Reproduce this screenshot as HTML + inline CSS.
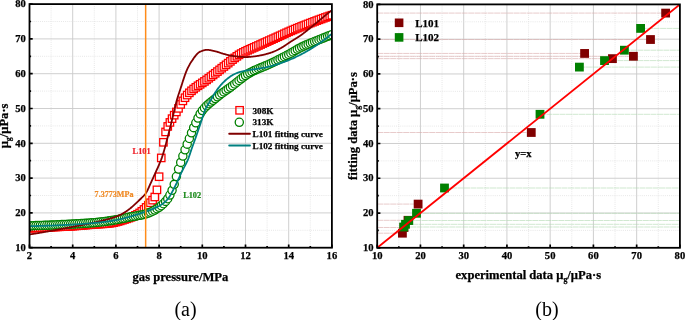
<!DOCTYPE html><html><head><meta charset="utf-8"><style>html,body{margin:0;padding:0;background:#fff;}svg{display:block;will-change:transform;filter:blur(0.3px);}</style></head><body><svg width="685" height="320" viewBox="0 0 685 320">
<rect width="685" height="320" fill="#fff"/>
<defs><clipPath id="cl"><rect x="29.5" y="4.1" width="302.4" height="243.6"/></clipPath><clipPath id="cr"><rect x="377.2" y="4.4" width="302.7" height="243.4"/></clipPath></defs>
<line x1="51.1" y1="4.1" x2="51.1" y2="247.7" stroke="#dedede" stroke-width="0.8" stroke-dasharray="0.9,1.2"/>
<line x1="72.7" y1="4.1" x2="72.7" y2="247.7" stroke="#c9c9c9" stroke-width="0.9"/>
<line x1="94.3" y1="4.1" x2="94.3" y2="247.7" stroke="#dedede" stroke-width="0.8" stroke-dasharray="0.9,1.2"/>
<line x1="115.9" y1="4.1" x2="115.9" y2="247.7" stroke="#c9c9c9" stroke-width="0.9"/>
<line x1="137.5" y1="4.1" x2="137.5" y2="247.7" stroke="#dedede" stroke-width="0.8" stroke-dasharray="0.9,1.2"/>
<line x1="159.1" y1="4.1" x2="159.1" y2="247.7" stroke="#c9c9c9" stroke-width="0.9"/>
<line x1="180.7" y1="4.1" x2="180.7" y2="247.7" stroke="#dedede" stroke-width="0.8" stroke-dasharray="0.9,1.2"/>
<line x1="202.3" y1="4.1" x2="202.3" y2="247.7" stroke="#c9c9c9" stroke-width="0.9"/>
<line x1="223.9" y1="4.1" x2="223.9" y2="247.7" stroke="#dedede" stroke-width="0.8" stroke-dasharray="0.9,1.2"/>
<line x1="245.5" y1="4.1" x2="245.5" y2="247.7" stroke="#c9c9c9" stroke-width="0.9"/>
<line x1="267.1" y1="4.1" x2="267.1" y2="247.7" stroke="#dedede" stroke-width="0.8" stroke-dasharray="0.9,1.2"/>
<line x1="288.7" y1="4.1" x2="288.7" y2="247.7" stroke="#c9c9c9" stroke-width="0.9"/>
<line x1="310.3" y1="4.1" x2="310.3" y2="247.7" stroke="#dedede" stroke-width="0.8" stroke-dasharray="0.9,1.2"/>
<line x1="29.5" y1="230.3" x2="331.9" y2="230.3" stroke="#dedede" stroke-width="0.8" stroke-dasharray="0.9,1.2"/>
<line x1="29.5" y1="212.9" x2="331.9" y2="212.9" stroke="#c9c9c9" stroke-width="0.9"/>
<line x1="29.5" y1="195.5" x2="331.9" y2="195.5" stroke="#dedede" stroke-width="0.8" stroke-dasharray="0.9,1.2"/>
<line x1="29.5" y1="178.1" x2="331.9" y2="178.1" stroke="#c9c9c9" stroke-width="0.9"/>
<line x1="29.5" y1="160.7" x2="331.9" y2="160.7" stroke="#dedede" stroke-width="0.8" stroke-dasharray="0.9,1.2"/>
<line x1="29.5" y1="143.3" x2="331.9" y2="143.3" stroke="#c9c9c9" stroke-width="0.9"/>
<line x1="29.5" y1="125.9" x2="331.9" y2="125.9" stroke="#dedede" stroke-width="0.8" stroke-dasharray="0.9,1.2"/>
<line x1="29.5" y1="108.5" x2="331.9" y2="108.5" stroke="#c9c9c9" stroke-width="0.9"/>
<line x1="29.5" y1="91.1" x2="331.9" y2="91.1" stroke="#dedede" stroke-width="0.8" stroke-dasharray="0.9,1.2"/>
<line x1="29.5" y1="73.7" x2="331.9" y2="73.7" stroke="#c9c9c9" stroke-width="0.9"/>
<line x1="29.5" y1="56.3" x2="331.9" y2="56.3" stroke="#dedede" stroke-width="0.8" stroke-dasharray="0.9,1.2"/>
<line x1="29.5" y1="38.9" x2="331.9" y2="38.9" stroke="#c9c9c9" stroke-width="0.9"/>
<line x1="29.5" y1="21.5" x2="331.9" y2="21.5" stroke="#dedede" stroke-width="0.8" stroke-dasharray="0.9,1.2"/>
<line x1="398.82" y1="4.4" x2="398.82" y2="247.8" stroke="#dedede" stroke-width="0.8" stroke-dasharray="0.9,1.2"/>
<line x1="420.44" y1="4.4" x2="420.44" y2="247.8" stroke="#c9c9c9" stroke-width="0.9"/>
<line x1="442.06" y1="4.4" x2="442.06" y2="247.8" stroke="#dedede" stroke-width="0.8" stroke-dasharray="0.9,1.2"/>
<line x1="463.69" y1="4.4" x2="463.69" y2="247.8" stroke="#c9c9c9" stroke-width="0.9"/>
<line x1="485.31" y1="4.4" x2="485.31" y2="247.8" stroke="#dedede" stroke-width="0.8" stroke-dasharray="0.9,1.2"/>
<line x1="506.93" y1="4.4" x2="506.93" y2="247.8" stroke="#c9c9c9" stroke-width="0.9"/>
<line x1="528.55" y1="4.4" x2="528.55" y2="247.8" stroke="#dedede" stroke-width="0.8" stroke-dasharray="0.9,1.2"/>
<line x1="550.17" y1="4.4" x2="550.17" y2="247.8" stroke="#c9c9c9" stroke-width="0.9"/>
<line x1="571.79" y1="4.4" x2="571.79" y2="247.8" stroke="#dedede" stroke-width="0.8" stroke-dasharray="0.9,1.2"/>
<line x1="593.41" y1="4.4" x2="593.41" y2="247.8" stroke="#c9c9c9" stroke-width="0.9"/>
<line x1="615.04" y1="4.4" x2="615.04" y2="247.8" stroke="#dedede" stroke-width="0.8" stroke-dasharray="0.9,1.2"/>
<line x1="636.66" y1="4.4" x2="636.66" y2="247.8" stroke="#c9c9c9" stroke-width="0.9"/>
<line x1="658.28" y1="4.4" x2="658.28" y2="247.8" stroke="#dedede" stroke-width="0.8" stroke-dasharray="0.9,1.2"/>
<line x1="377.2" y1="230.41" x2="679.9" y2="230.41" stroke="#dedede" stroke-width="0.8" stroke-dasharray="0.9,1.2"/>
<line x1="377.2" y1="213.03" x2="679.9" y2="213.03" stroke="#c9c9c9" stroke-width="0.9"/>
<line x1="377.2" y1="195.64" x2="679.9" y2="195.64" stroke="#dedede" stroke-width="0.8" stroke-dasharray="0.9,1.2"/>
<line x1="377.2" y1="178.26" x2="679.9" y2="178.26" stroke="#c9c9c9" stroke-width="0.9"/>
<line x1="377.2" y1="160.87" x2="679.9" y2="160.87" stroke="#dedede" stroke-width="0.8" stroke-dasharray="0.9,1.2"/>
<line x1="377.2" y1="143.49" x2="679.9" y2="143.49" stroke="#c9c9c9" stroke-width="0.9"/>
<line x1="377.2" y1="126.1" x2="679.9" y2="126.1" stroke="#dedede" stroke-width="0.8" stroke-dasharray="0.9,1.2"/>
<line x1="377.2" y1="108.71" x2="679.9" y2="108.71" stroke="#c9c9c9" stroke-width="0.9"/>
<line x1="377.2" y1="91.33" x2="679.9" y2="91.33" stroke="#dedede" stroke-width="0.8" stroke-dasharray="0.9,1.2"/>
<line x1="377.2" y1="73.94" x2="679.9" y2="73.94" stroke="#c9c9c9" stroke-width="0.9"/>
<line x1="377.2" y1="56.56" x2="679.9" y2="56.56" stroke="#dedede" stroke-width="0.8" stroke-dasharray="0.9,1.2"/>
<line x1="377.2" y1="39.17" x2="679.9" y2="39.17" stroke="#c9c9c9" stroke-width="0.9"/>
<line x1="377.2" y1="21.79" x2="679.9" y2="21.79" stroke="#dedede" stroke-width="0.8" stroke-dasharray="0.9,1.2"/>
<g clip-path="url(#cl)">
<g fill="#fff" stroke="#ff0000" stroke-width="1.3"><rect x="25.8" y="224.51" width="7.4" height="7.4"/><rect x="27.96" y="224.41" width="7.4" height="7.4"/><rect x="30.12" y="224.3" width="7.4" height="7.4"/><rect x="32.28" y="224.2" width="7.4" height="7.4"/><rect x="34.44" y="224.09" width="7.4" height="7.4"/><rect x="36.6" y="223.99" width="7.4" height="7.4"/><rect x="38.76" y="223.89" width="7.4" height="7.4"/><rect x="40.92" y="223.78" width="7.4" height="7.4"/><rect x="43.08" y="223.68" width="7.4" height="7.4"/><rect x="45.24" y="223.57" width="7.4" height="7.4"/><rect x="47.4" y="223.47" width="7.4" height="7.4"/><rect x="49.56" y="223.37" width="7.4" height="7.4"/><rect x="51.72" y="223.27" width="7.4" height="7.4"/><rect x="53.88" y="223.17" width="7.4" height="7.4"/><rect x="56.04" y="223.08" width="7.4" height="7.4"/><rect x="58.2" y="222.98" width="7.4" height="7.4"/><rect x="60.36" y="222.88" width="7.4" height="7.4"/><rect x="62.52" y="222.78" width="7.4" height="7.4"/><rect x="64.68" y="222.67" width="7.4" height="7.4"/><rect x="66.84" y="222.55" width="7.4" height="7.4"/><rect x="69" y="222.42" width="7.4" height="7.4"/><rect x="71.16" y="222.28" width="7.4" height="7.4"/><rect x="73.32" y="222.13" width="7.4" height="7.4"/><rect x="75.48" y="221.96" width="7.4" height="7.4"/><rect x="77.64" y="221.78" width="7.4" height="7.4"/><rect x="79.8" y="221.59" width="7.4" height="7.4"/><rect x="81.96" y="221.4" width="7.4" height="7.4"/><rect x="84.12" y="221.21" width="7.4" height="7.4"/><rect x="86.28" y="221.03" width="7.4" height="7.4"/><rect x="88.44" y="220.85" width="7.4" height="7.4"/><rect x="90.6" y="220.68" width="7.4" height="7.4"/><rect x="92.76" y="220.54" width="7.4" height="7.4"/><rect x="94.92" y="220.41" width="7.4" height="7.4"/><rect x="97.08" y="220.28" width="7.4" height="7.4"/><rect x="99.24" y="220.15" width="7.4" height="7.4"/><rect x="101.4" y="220.01" width="7.4" height="7.4"/><rect x="103.56" y="219.83" width="7.4" height="7.4"/><rect x="105.72" y="219.62" width="7.4" height="7.4"/><rect x="107.88" y="219.31" width="7.4" height="7.4"/><rect x="110.04" y="218.9" width="7.4" height="7.4"/><rect x="112.2" y="218.4" width="7.4" height="7.4"/><rect x="114.36" y="217.82" width="7.4" height="7.4"/><rect x="116.52" y="217.19" width="7.4" height="7.4"/><rect x="118.68" y="216.52" width="7.4" height="7.4"/><rect x="120.84" y="215.82" width="7.4" height="7.4"/><rect x="123" y="215.12" width="7.4" height="7.4"/><rect x="125.16" y="214.39" width="7.4" height="7.4"/><rect x="127.32" y="213.6" width="7.4" height="7.4"/><rect x="129.48" y="212.72" width="7.4" height="7.4"/><rect x="131.64" y="211.72" width="7.4" height="7.4"/><rect x="133.8" y="210.59" width="7.4" height="7.4"/><rect x="135.96" y="209.23" width="7.4" height="7.4"/><rect x="138.12" y="207.6" width="7.4" height="7.4"/><rect x="140.28" y="205.75" width="7.4" height="7.4"/><rect x="142.44" y="203.71" width="7.4" height="7.4"/><rect x="144.6" y="201.52" width="7.4" height="7.4"/><rect x="146.76" y="199.02" width="7.4" height="7.4"/><rect x="148.92" y="196.44" width="7.4" height="7.4"/><rect x="151.08" y="193.29" width="7.4" height="7.4"/><rect x="153.24" y="186.16" width="7.4" height="7.4"/><rect x="155.4" y="173.01" width="7.4" height="7.4"/><rect x="157.56" y="154.22" width="7.4" height="7.4"/><rect x="159.72" y="138.61" width="7.4" height="7.4"/><rect x="161.88" y="128.24" width="7.4" height="7.4"/><rect x="164.04" y="122.72" width="7.4" height="7.4"/><rect x="166.2" y="118.72" width="7.4" height="7.4"/><rect x="168.36" y="114.94" width="7.4" height="7.4"/><rect x="170.52" y="111.47" width="7.4" height="7.4"/><rect x="172.68" y="108.24" width="7.4" height="7.4"/><rect x="174.84" y="104.67" width="7.4" height="7.4"/><rect x="177" y="100.72" width="7.4" height="7.4"/><rect x="179.16" y="97.18" width="7.4" height="7.4"/><rect x="181.32" y="94.01" width="7.4" height="7.4"/><rect x="183.48" y="91.36" width="7.4" height="7.4"/><rect x="185.64" y="89.12" width="7.4" height="7.4"/><rect x="187.8" y="87.11" width="7.4" height="7.4"/><rect x="189.96" y="85.29" width="7.4" height="7.4"/><rect x="192.12" y="83.62" width="7.4" height="7.4"/><rect x="194.28" y="82.08" width="7.4" height="7.4"/><rect x="196.44" y="80.63" width="7.4" height="7.4"/><rect x="198.6" y="79.2" width="7.4" height="7.4"/><rect x="200.76" y="77.73" width="7.4" height="7.4"/><rect x="202.92" y="76.17" width="7.4" height="7.4"/><rect x="205.08" y="74.57" width="7.4" height="7.4"/><rect x="207.24" y="72.93" width="7.4" height="7.4"/><rect x="209.4" y="71.26" width="7.4" height="7.4"/><rect x="211.56" y="69.58" width="7.4" height="7.4"/><rect x="213.72" y="67.88" width="7.4" height="7.4"/><rect x="215.88" y="66.19" width="7.4" height="7.4"/><rect x="218.04" y="64.5" width="7.4" height="7.4"/><rect x="220.2" y="62.82" width="7.4" height="7.4"/><rect x="222.36" y="61.16" width="7.4" height="7.4"/><rect x="224.52" y="59.43" width="7.4" height="7.4"/><rect x="226.68" y="57.67" width="7.4" height="7.4"/><rect x="228.84" y="55.92" width="7.4" height="7.4"/><rect x="231" y="54.23" width="7.4" height="7.4"/><rect x="233.16" y="52.63" width="7.4" height="7.4"/><rect x="235.32" y="51.17" width="7.4" height="7.4"/><rect x="237.48" y="49.89" width="7.4" height="7.4"/><rect x="239.64" y="48.71" width="7.4" height="7.4"/><rect x="241.8" y="47.61" width="7.4" height="7.4"/><rect x="243.96" y="46.58" width="7.4" height="7.4"/><rect x="246.12" y="45.59" width="7.4" height="7.4"/><rect x="248.28" y="44.64" width="7.4" height="7.4"/><rect x="250.44" y="43.7" width="7.4" height="7.4"/><rect x="252.6" y="42.76" width="7.4" height="7.4"/><rect x="254.76" y="41.8" width="7.4" height="7.4"/><rect x="256.92" y="40.82" width="7.4" height="7.4"/><rect x="259.08" y="39.83" width="7.4" height="7.4"/><rect x="261.24" y="38.85" width="7.4" height="7.4"/><rect x="263.4" y="37.88" width="7.4" height="7.4"/><rect x="265.56" y="36.91" width="7.4" height="7.4"/><rect x="267.72" y="35.94" width="7.4" height="7.4"/><rect x="269.88" y="34.98" width="7.4" height="7.4"/><rect x="272.04" y="34.01" width="7.4" height="7.4"/><rect x="274.2" y="33.04" width="7.4" height="7.4"/><rect x="276.36" y="32.07" width="7.4" height="7.4"/><rect x="278.52" y="31.08" width="7.4" height="7.4"/><rect x="280.68" y="30.07" width="7.4" height="7.4"/><rect x="282.84" y="29.08" width="7.4" height="7.4"/><rect x="285" y="28.11" width="7.4" height="7.4"/><rect x="287.16" y="27.18" width="7.4" height="7.4"/><rect x="289.32" y="26.26" width="7.4" height="7.4"/><rect x="291.48" y="25.36" width="7.4" height="7.4"/><rect x="293.64" y="24.47" width="7.4" height="7.4"/><rect x="295.8" y="23.6" width="7.4" height="7.4"/><rect x="297.96" y="22.73" width="7.4" height="7.4"/><rect x="300.12" y="21.87" width="7.4" height="7.4"/><rect x="302.28" y="21.03" width="7.4" height="7.4"/><rect x="304.44" y="20.19" width="7.4" height="7.4"/><rect x="306.6" y="19.36" width="7.4" height="7.4"/><rect x="308.76" y="18.54" width="7.4" height="7.4"/><rect x="310.92" y="17.72" width="7.4" height="7.4"/><rect x="313.08" y="16.91" width="7.4" height="7.4"/><rect x="315.24" y="16.11" width="7.4" height="7.4"/><rect x="317.4" y="15.32" width="7.4" height="7.4"/><rect x="319.56" y="14.54" width="7.4" height="7.4"/><rect x="321.72" y="13.77" width="7.4" height="7.4"/><rect x="323.88" y="13.02" width="7.4" height="7.4"/><rect x="326.04" y="12.27" width="7.4" height="7.4"/><rect x="328.2" y="11.54" width="7.4" height="7.4"/></g>
<g fill="#fff" stroke="#008000" stroke-width="1.3"><circle cx="29.5" cy="225.78" r="4.1"/><circle cx="31.66" cy="225.72" r="4.1"/><circle cx="33.82" cy="225.66" r="4.1"/><circle cx="35.98" cy="225.6" r="4.1"/><circle cx="38.14" cy="225.54" r="4.1"/><circle cx="40.3" cy="225.47" r="4.1"/><circle cx="42.46" cy="225.4" r="4.1"/><circle cx="44.62" cy="225.32" r="4.1"/><circle cx="46.78" cy="225.24" r="4.1"/><circle cx="48.94" cy="225.16" r="4.1"/><circle cx="51.1" cy="225.08" r="4.1"/><circle cx="53.26" cy="224.99" r="4.1"/><circle cx="55.42" cy="224.9" r="4.1"/><circle cx="57.58" cy="224.81" r="4.1"/><circle cx="59.74" cy="224.71" r="4.1"/><circle cx="61.9" cy="224.6" r="4.1"/><circle cx="64.06" cy="224.5" r="4.1"/><circle cx="66.22" cy="224.38" r="4.1"/><circle cx="68.38" cy="224.27" r="4.1"/><circle cx="70.54" cy="224.15" r="4.1"/><circle cx="72.7" cy="224.04" r="4.1"/><circle cx="74.86" cy="223.92" r="4.1"/><circle cx="77.02" cy="223.8" r="4.1"/><circle cx="79.18" cy="223.67" r="4.1"/><circle cx="81.34" cy="223.55" r="4.1"/><circle cx="83.5" cy="223.42" r="4.1"/><circle cx="85.66" cy="223.28" r="4.1"/><circle cx="87.82" cy="223.14" r="4.1"/><circle cx="89.98" cy="222.98" r="4.1"/><circle cx="92.14" cy="222.82" r="4.1"/><circle cx="94.3" cy="222.64" r="4.1"/><circle cx="96.46" cy="222.45" r="4.1"/><circle cx="98.62" cy="222.23" r="4.1"/><circle cx="100.78" cy="221.99" r="4.1"/><circle cx="102.94" cy="221.74" r="4.1"/><circle cx="105.1" cy="221.46" r="4.1"/><circle cx="107.26" cy="221.17" r="4.1"/><circle cx="109.42" cy="220.87" r="4.1"/><circle cx="111.58" cy="220.55" r="4.1"/><circle cx="113.74" cy="220.19" r="4.1"/><circle cx="115.9" cy="219.81" r="4.1"/><circle cx="118.06" cy="219.41" r="4.1"/><circle cx="120.22" cy="218.99" r="4.1"/><circle cx="122.38" cy="218.57" r="4.1"/><circle cx="124.54" cy="218.14" r="4.1"/><circle cx="126.7" cy="217.71" r="4.1"/><circle cx="128.86" cy="217.28" r="4.1"/><circle cx="131.02" cy="216.87" r="4.1"/><circle cx="133.18" cy="216.49" r="4.1"/><circle cx="135.34" cy="216.13" r="4.1"/><circle cx="137.5" cy="215.75" r="4.1"/><circle cx="139.66" cy="215.36" r="4.1"/><circle cx="141.82" cy="214.92" r="4.1"/><circle cx="143.98" cy="214.41" r="4.1"/><circle cx="146.14" cy="213.82" r="4.1"/><circle cx="148.3" cy="213.09" r="4.1"/><circle cx="150.46" cy="212.21" r="4.1"/><circle cx="152.62" cy="211.18" r="4.1"/><circle cx="154.78" cy="210.02" r="4.1"/><circle cx="156.94" cy="208.74" r="4.1"/><circle cx="159.1" cy="207.33" r="4.1"/><circle cx="161.26" cy="205.71" r="4.1"/><circle cx="163.42" cy="203.74" r="4.1"/><circle cx="165.58" cy="201.4" r="4.1"/><circle cx="167.74" cy="198.69" r="4.1"/><circle cx="169.9" cy="195.04" r="4.1"/><circle cx="172.06" cy="190.36" r="4.1"/><circle cx="174.22" cy="184.34" r="4.1"/><circle cx="176.38" cy="176.54" r="4.1"/><circle cx="178.54" cy="169.06" r="4.1"/><circle cx="180.7" cy="162.38" r="4.1"/><circle cx="182.86" cy="156.03" r="4.1"/><circle cx="185.02" cy="149.77" r="4.1"/><circle cx="187.18" cy="144.13" r="4.1"/><circle cx="189.34" cy="138.51" r="4.1"/><circle cx="191.5" cy="132.86" r="4.1"/><circle cx="193.66" cy="127.64" r="4.1"/><circle cx="195.82" cy="122.78" r="4.1"/><circle cx="197.98" cy="118.09" r="4.1"/><circle cx="200.14" cy="113.92" r="4.1"/><circle cx="202.3" cy="110.59" r="4.1"/><circle cx="204.46" cy="108.01" r="4.1"/><circle cx="206.62" cy="105.81" r="4.1"/><circle cx="208.78" cy="103.87" r="4.1"/><circle cx="210.94" cy="102.09" r="4.1"/><circle cx="213.1" cy="100.35" r="4.1"/><circle cx="215.26" cy="98.56" r="4.1"/><circle cx="217.42" cy="96.81" r="4.1"/><circle cx="219.58" cy="95.12" r="4.1"/><circle cx="221.74" cy="93.49" r="4.1"/><circle cx="223.9" cy="91.89" r="4.1"/><circle cx="226.06" cy="90.33" r="4.1"/><circle cx="228.22" cy="88.83" r="4.1"/><circle cx="230.38" cy="87.31" r="4.1"/><circle cx="232.54" cy="85.69" r="4.1"/><circle cx="234.7" cy="83.99" r="4.1"/><circle cx="236.86" cy="82.25" r="4.1"/><circle cx="239.02" cy="80.5" r="4.1"/><circle cx="241.18" cy="78.78" r="4.1"/><circle cx="243.34" cy="77.11" r="4.1"/><circle cx="245.5" cy="75.53" r="4.1"/><circle cx="247.66" cy="74.07" r="4.1"/><circle cx="249.82" cy="72.78" r="4.1"/><circle cx="251.98" cy="71.63" r="4.1"/><circle cx="254.14" cy="70.59" r="4.1"/><circle cx="256.3" cy="69.63" r="4.1"/><circle cx="258.46" cy="68.72" r="4.1"/><circle cx="260.62" cy="67.85" r="4.1"/><circle cx="262.78" cy="66.99" r="4.1"/><circle cx="264.94" cy="66.12" r="4.1"/><circle cx="267.1" cy="65.22" r="4.1"/><circle cx="269.26" cy="64.26" r="4.1"/><circle cx="271.42" cy="63.24" r="4.1"/><circle cx="273.58" cy="62.2" r="4.1"/><circle cx="275.74" cy="61.13" r="4.1"/><circle cx="277.9" cy="60.05" r="4.1"/><circle cx="280.06" cy="58.96" r="4.1"/><circle cx="282.22" cy="57.84" r="4.1"/><circle cx="284.38" cy="56.71" r="4.1"/><circle cx="286.54" cy="55.56" r="4.1"/><circle cx="288.7" cy="54.4" r="4.1"/><circle cx="290.86" cy="53.21" r="4.1"/><circle cx="293.02" cy="51.94" r="4.1"/><circle cx="295.18" cy="50.63" r="4.1"/><circle cx="297.34" cy="49.35" r="4.1"/><circle cx="299.5" cy="48.17" r="4.1"/><circle cx="301.66" cy="47.1" r="4.1"/><circle cx="303.82" cy="46.09" r="4.1"/><circle cx="305.98" cy="45.12" r="4.1"/><circle cx="308.14" cy="44.19" r="4.1"/><circle cx="310.3" cy="43.29" r="4.1"/><circle cx="312.46" cy="42.4" r="4.1"/><circle cx="314.62" cy="41.52" r="4.1"/><circle cx="316.78" cy="40.64" r="4.1"/><circle cx="318.94" cy="39.76" r="4.1"/><circle cx="321.1" cy="38.89" r="4.1"/><circle cx="323.26" cy="38.03" r="4.1"/><circle cx="325.42" cy="37.19" r="4.1"/><circle cx="327.58" cy="36.35" r="4.1"/><circle cx="329.74" cy="35.53" r="4.1"/><circle cx="331.9" cy="34.72" r="4.1"/></g>
<polyline points="29.5,234.48 30.04,234.39 30.58,234.31 31.12,234.22 31.66,234.14 32.2,234.05 32.74,233.96 33.28,233.88 33.82,233.79 34.36,233.7 34.9,233.62 35.44,233.53 35.98,233.44 36.52,233.35 37.06,233.27 37.6,233.18 38.14,233.09 38.68,233 39.22,232.91 39.76,232.82 40.3,232.73 40.84,232.64 41.38,232.55 41.92,232.45 42.46,232.36 43,232.27 43.54,232.18 44.08,232.09 44.62,231.99 45.16,231.9 45.7,231.81 46.24,231.71 46.78,231.62 47.32,231.53 47.86,231.43 48.4,231.34 48.94,231.24 49.48,231.15 50.02,231.05 50.56,230.95 51.1,230.86 51.64,230.76 52.18,230.67 52.72,230.57 53.26,230.47 53.8,230.37 54.34,230.28 54.88,230.18 55.42,230.08 55.96,229.98 56.5,229.88 57.04,229.78 57.58,229.68 58.12,229.58 58.66,229.48 59.2,229.38 59.74,229.28 60.28,229.18 60.82,229.08 61.36,228.98 61.9,228.88 62.44,228.78 62.98,228.68 63.52,228.57 64.06,228.47 64.6,228.37 65.14,228.26 65.68,228.16 66.22,228.06 66.76,227.95 67.3,227.85 67.84,227.75 68.38,227.64 68.92,227.54 69.46,227.43 70,227.33 70.54,227.22 71.08,227.12 71.62,227.02 72.16,226.91 72.7,226.81 73.24,226.71 73.78,226.6 74.32,226.5 74.86,226.4 75.4,226.29 75.94,226.19 76.48,226.09 77.02,225.98 77.56,225.88 78.1,225.78 78.64,225.67 79.18,225.57 79.72,225.47 80.26,225.36 80.8,225.26 81.34,225.15 81.88,225.05 82.42,224.94 82.96,224.84 83.5,224.73 84.04,224.63 84.58,224.52 85.12,224.41 85.66,224.31 86.2,224.2 86.74,224.09 87.28,223.98 87.82,223.87 88.36,223.76 88.9,223.65 89.44,223.54 89.98,223.43 90.52,223.32 91.06,223.2 91.6,223.09 92.14,222.97 92.68,222.86 93.22,222.74 93.76,222.62 94.3,222.51 94.84,222.39 95.38,222.27 95.92,222.15 96.46,222.03 97,221.9 97.54,221.78 98.08,221.65 98.62,221.53 99.16,221.4 99.7,221.27 100.24,221.15 100.78,221.02 101.32,220.88 101.86,220.75 102.4,220.62 102.94,220.48 103.48,220.35 104.02,220.21 104.56,220.07 105.1,219.93 105.64,219.79 106.18,219.64 106.72,219.5 107.26,219.35 107.8,219.21 108.34,219.06 108.88,218.91 109.42,218.75 109.96,218.6 110.5,218.44 111.04,218.28 111.58,218.12 112.12,217.95 112.66,217.78 113.2,217.61 113.74,217.43 114.28,217.25 114.82,217.06 115.36,216.87 115.9,216.67 116.44,216.47 116.98,216.26 117.52,216.05 118.06,215.83 118.6,215.6 119.14,215.37 119.68,215.13 120.22,214.89 120.76,214.63 121.3,214.36 121.84,214.07 122.38,213.77 122.92,213.46 123.46,213.14 124,212.81 124.54,212.47 125.08,212.12 125.62,211.76 126.16,211.4 126.7,211.03 127.24,210.65 127.78,210.27 128.32,209.88 128.86,209.48 129.4,209.07 129.94,208.65 130.48,208.21 131.02,207.77 131.56,207.31 132.1,206.85 132.64,206.38 133.18,205.9 133.72,205.41 134.26,204.92 134.8,204.41 135.34,203.91 135.88,203.4 136.42,202.88 136.96,202.37 137.5,201.84 138.04,201.32 138.58,200.79 139.12,200.27 139.66,199.75 140.2,199.24 140.74,198.73 141.28,198.23 141.82,197.71 142.36,197.19 142.9,196.64 143.44,196.08 143.98,195.48 144.52,194.86 145.06,194.19 145.6,193.48 146.14,192.72 146.68,191.85 147.22,190.85 147.76,189.74 148.3,188.56 148.84,187.33 149.38,186.08 149.92,184.85 150.46,183.67 151,182.51 151.54,181.35 152.08,180.19 152.62,179.01 153.16,177.84 153.7,176.65 154.24,175.47 154.78,174.27 155.32,173.08 155.86,171.88 156.4,170.69 156.94,169.48 157.48,168.27 158.02,167.04 158.56,165.8 159.1,164.53 159.64,163.26 160.18,161.99 160.72,160.69 161.26,159.33 161.8,157.87 162.34,156.3 162.88,154.63 163.42,152.87 163.96,151.03 164.5,149.12 165.04,147.16 165.58,145.16 166.12,143.12 166.66,141.07 167.2,139 167.74,136.94 168.28,134.89 168.82,132.81 169.36,130.69 169.9,128.54 170.44,126.36 170.98,124.15 171.52,121.93 172.06,119.7 172.6,117.46 173.14,115.23 173.68,112.99 174.22,110.78 174.76,108.55 175.3,106.25 175.84,103.96 176.38,101.77 176.92,99.77 177.46,97.93 178,96.21 178.54,94.56 179.08,92.95 179.62,91.35 180.16,89.73 180.7,88.07 181.24,86.38 181.78,84.68 182.32,82.97 182.86,81.27 183.4,79.6 183.94,77.95 184.48,76.35 185.02,74.8 185.56,73.32 186.1,71.92 186.64,70.61 187.18,69.4 187.72,68.24 188.26,67.13 188.8,66.07 189.34,65.05 189.88,64.08 190.42,63.16 190.96,62.28 191.5,61.45 192.04,60.67 192.58,59.9 193.12,59.12 193.66,58.35 194.2,57.59 194.74,56.85 195.28,56.13 195.82,55.44 196.36,54.79 196.9,54.17 197.44,53.6 197.98,53.09 198.52,52.64 199.06,52.25 199.6,51.93 200.14,51.68 200.68,51.46 201.22,51.24 201.76,51.03 202.3,50.83 202.84,50.64 203.38,50.47 203.92,50.31 204.46,50.18 205,50.07 205.54,49.98 206.08,49.91 206.62,49.87 207.16,49.86 207.7,49.88 208.24,49.91 208.78,49.96 209.32,50.02 209.86,50.1 210.4,50.19 210.94,50.3 211.48,50.41 212.02,50.52 212.56,50.65 213.1,50.78 213.64,50.91 214.18,51.04 214.72,51.17 215.26,51.29 215.8,51.42 216.34,51.55 216.88,51.7 217.42,51.85 217.96,52.02 218.5,52.19 219.04,52.37 219.58,52.55 220.12,52.73 220.66,52.91 221.2,53.1 221.74,53.27 222.28,53.44 222.82,53.61 223.36,53.76 223.9,53.91 224.44,54.06 224.98,54.21 225.52,54.36 226.06,54.51 226.6,54.66 227.14,54.8 227.68,54.94 228.22,55.08 228.76,55.21 229.3,55.33 229.84,55.45 230.38,55.56 230.92,55.65 231.46,55.74 232,55.83 232.54,55.91 233.08,55.99 233.62,56.06 234.16,56.13 234.7,56.2 235.24,56.27 235.78,56.33 236.32,56.39 236.86,56.45 237.4,56.5 237.94,56.55 238.48,56.6 239.02,56.65 239.56,56.69 240.1,56.74 240.64,56.79 241.18,56.84 241.72,56.88 242.26,56.92 242.8,56.96 243.34,57 243.88,57.03 244.42,57.05 244.96,57.06 245.5,57.07 246.04,57.06 246.58,57.05 247.12,57.03 247.66,57.01 248.2,56.98 248.74,56.94 249.28,56.9 249.82,56.86 250.36,56.81 250.9,56.76 251.44,56.71 251.98,56.66 252.52,56.6 253.06,56.54 253.6,56.48 254.14,56.43 254.68,56.37 255.22,56.3 255.76,56.23 256.3,56.16 256.84,56.07 257.38,55.98 257.92,55.89 258.46,55.79 259,55.69 259.54,55.59 260.08,55.48 260.62,55.37 261.16,55.25 261.7,55.13 262.24,55.01 262.78,54.89 263.32,54.77 263.86,54.65 264.4,54.52 264.94,54.39 265.48,54.26 266.02,54.12 266.56,53.98 267.1,53.83 267.64,53.68 268.18,53.53 268.72,53.37 269.26,53.2 269.8,53.04 270.34,52.86 270.88,52.68 271.42,52.5 271.96,52.31 272.5,52.12 273.04,51.92 273.58,51.71 274.12,51.5 274.66,51.27 275.2,51.03 275.74,50.78 276.28,50.53 276.82,50.26 277.36,49.99 277.9,49.71 278.44,49.43 278.98,49.14 279.52,48.84 280.06,48.54 280.6,48.23 281.14,47.93 281.68,47.62 282.22,47.31 282.76,46.99 283.3,46.66 283.84,46.32 284.38,45.97 284.92,45.62 285.46,45.25 286,44.88 286.54,44.5 287.08,44.13 287.62,43.75 288.16,43.38 288.7,43 289.24,42.64 289.78,42.28 290.32,41.93 290.86,41.58 291.4,41.24 291.94,40.9 292.48,40.56 293.02,40.23 293.56,39.9 294.1,39.57 294.64,39.24 295.18,38.91 295.72,38.58 296.26,38.24 296.8,37.91 297.34,37.57 297.88,37.22 298.42,36.87 298.96,36.52 299.5,36.16 300.04,35.79 300.58,35.42 301.12,35.04 301.66,34.65 302.2,34.26 302.74,33.86 303.28,33.45 303.82,33.04 304.36,32.63 304.9,32.21 305.44,31.79 305.98,31.36 306.52,30.93 307.06,30.5 307.6,30.07 308.14,29.63 308.68,29.19 309.22,28.75 309.76,28.3 310.3,27.86 310.84,27.41 311.38,26.97 311.92,26.52 312.46,26.08 313,25.63 313.54,25.18 314.08,24.74 314.62,24.3 315.16,23.86 315.7,23.42 316.24,22.98 316.78,22.54 317.32,22.1 317.86,21.66 318.4,21.21 318.94,20.76 319.48,20.31 320.02,19.85 320.56,19.4 321.1,18.94 321.64,18.48 322.18,18.02 322.72,17.57 323.26,17.11 323.8,16.66 324.34,16.2 324.88,15.75 325.42,15.31 325.96,14.86 326.5,14.42 327.04,13.99 327.58,13.56 328.12,13.13 328.66,12.71 329.2,12.3 329.74,11.89 330.28,11.49 330.82,11.1 331.36,10.73 331.9,10.36" fill="none" stroke="#800000" stroke-width="1.8" stroke-linejoin="round"/>
<polyline points="29.5,226.12 30.04,226.12 30.58,226.11 31.12,226.11 31.66,226.1 32.2,226.09 32.74,226.09 33.28,226.08 33.82,226.07 34.36,226.06 34.9,226.05 35.44,226.04 35.98,226.03 36.52,226.02 37.06,226.01 37.6,226 38.14,225.99 38.68,225.97 39.22,225.96 39.76,225.95 40.3,225.93 40.84,225.92 41.38,225.9 41.92,225.89 42.46,225.87 43,225.86 43.54,225.84 44.08,225.82 44.62,225.81 45.16,225.79 45.7,225.77 46.24,225.75 46.78,225.73 47.32,225.71 47.86,225.69 48.4,225.68 48.94,225.66 49.48,225.64 50.02,225.61 50.56,225.59 51.1,225.57 51.64,225.55 52.18,225.53 52.72,225.51 53.26,225.49 53.8,225.46 54.34,225.44 54.88,225.42 55.42,225.39 55.96,225.37 56.5,225.35 57.04,225.32 57.58,225.3 58.12,225.28 58.66,225.25 59.2,225.23 59.74,225.2 60.28,225.18 60.82,225.15 61.36,225.13 61.9,225.1 62.44,225.08 62.98,225.05 63.52,225.02 64.06,225 64.6,224.97 65.14,224.95 65.68,224.92 66.22,224.89 66.76,224.87 67.3,224.84 67.84,224.81 68.38,224.79 68.92,224.76 69.46,224.73 70,224.7 70.54,224.68 71.08,224.65 71.62,224.62 72.16,224.59 72.7,224.56 73.24,224.53 73.78,224.5 74.32,224.47 74.86,224.44 75.4,224.41 75.94,224.38 76.48,224.34 77.02,224.31 77.56,224.28 78.1,224.24 78.64,224.21 79.18,224.17 79.72,224.13 80.26,224.1 80.8,224.06 81.34,224.02 81.88,223.99 82.42,223.95 82.96,223.91 83.5,223.87 84.04,223.83 84.58,223.79 85.12,223.75 85.66,223.7 86.2,223.66 86.74,223.62 87.28,223.57 87.82,223.53 88.36,223.48 88.9,223.44 89.44,223.39 89.98,223.35 90.52,223.3 91.06,223.25 91.6,223.2 92.14,223.15 92.68,223.1 93.22,223.05 93.76,223 94.3,222.95 94.84,222.9 95.38,222.84 95.92,222.79 96.46,222.74 97,222.68 97.54,222.63 98.08,222.57 98.62,222.51 99.16,222.45 99.7,222.4 100.24,222.34 100.78,222.28 101.32,222.22 101.86,222.16 102.4,222.09 102.94,222.03 103.48,221.97 104.02,221.9 104.56,221.84 105.1,221.77 105.64,221.71 106.18,221.64 106.72,221.57 107.26,221.5 107.8,221.44 108.34,221.37 108.88,221.29 109.42,221.22 109.96,221.15 110.5,221.07 111.04,220.99 111.58,220.91 112.12,220.82 112.66,220.73 113.2,220.64 113.74,220.55 114.28,220.45 114.82,220.35 115.36,220.25 115.9,220.15 116.44,220.04 116.98,219.93 117.52,219.82 118.06,219.71 118.6,219.59 119.14,219.47 119.68,219.35 120.22,219.23 120.76,219.1 121.3,218.97 121.84,218.84 122.38,218.71 122.92,218.58 123.46,218.44 124,218.31 124.54,218.17 125.08,218.02 125.62,217.88 126.16,217.74 126.7,217.59 127.24,217.44 127.78,217.29 128.32,217.14 128.86,216.99 129.4,216.83 129.94,216.68 130.48,216.52 131.02,216.36 131.56,216.2 132.1,216.04 132.64,215.87 133.18,215.71 133.72,215.54 134.26,215.38 134.8,215.21 135.34,215.04 135.88,214.87 136.42,214.7 136.96,214.53 137.5,214.35 138.04,214.18 138.58,214 139.12,213.83 139.66,213.65 140.2,213.48 140.74,213.3 141.28,213.12 141.82,212.94 142.36,212.76 142.9,212.58 143.44,212.4 143.98,212.22 144.52,212.04 145.06,211.86 145.6,211.67 146.14,211.49 146.68,211.3 147.22,211.12 147.76,210.93 148.3,210.73 148.84,210.54 149.38,210.34 149.92,210.14 150.46,209.94 151,209.73 151.54,209.52 152.08,209.3 152.62,209.08 153.16,208.85 153.7,208.62 154.24,208.39 154.78,208.15 155.32,207.9 155.86,207.65 156.4,207.39 156.94,207.12 157.48,206.85 158.02,206.57 158.56,206.28 159.1,205.99 159.64,205.68 160.18,205.37 160.72,205.05 161.26,204.71 161.8,204.36 162.34,203.99 162.88,203.6 163.42,203.19 163.96,202.76 164.5,202.3 165.04,201.83 165.58,201.33 166.12,200.81 166.66,200.26 167.2,199.68 167.74,199.08 168.28,198.41 168.82,197.67 169.36,196.88 169.9,196.02 170.44,195.12 170.98,194.17 171.52,193.19 172.06,192.18 172.6,191.14 173.14,190.09 173.68,189.02 174.22,187.96 174.76,186.89 175.3,185.83 175.84,184.77 176.38,183.67 176.92,182.54 177.46,181.37 178,180.18 178.54,178.97 179.08,177.76 179.62,176.55 180.16,175.34 180.7,174.15 181.24,172.98 181.78,171.84 182.32,170.74 182.86,169.68 183.4,168.65 183.94,167.64 184.48,166.64 185.02,165.63 185.56,164.6 186.1,163.55 186.64,162.45 187.18,161.29 187.72,160.08 188.26,158.77 188.8,157.32 189.34,155.76 189.88,154.12 190.42,152.47 190.96,150.85 191.5,149.3 192.04,147.8 192.58,146.3 193.12,144.81 193.66,143.3 194.2,141.77 194.74,140.23 195.28,138.69 195.82,137.13 196.36,135.58 196.9,134.02 197.44,132.45 197.98,130.89 198.52,129.33 199.06,127.77 199.6,126.21 200.14,124.64 200.68,123 201.22,121.33 201.76,119.64 202.3,117.95 202.84,116.29 203.38,114.66 203.92,113.1 204.46,111.61 205,110.23 205.54,108.97 206.08,107.83 206.62,106.79 207.16,105.83 207.7,104.92 208.24,104.05 208.78,103.21 209.32,102.38 209.86,101.54 210.4,100.69 210.94,99.8 211.48,98.88 212.02,97.94 212.56,96.99 213.1,96.04 213.64,95.11 214.18,94.2 214.72,93.32 215.26,92.49 215.8,91.69 216.34,90.9 216.88,90.13 217.42,89.37 217.96,88.63 218.5,87.91 219.04,87.2 219.58,86.52 220.12,85.86 220.66,85.22 221.2,84.61 221.74,84.02 222.28,83.44 222.82,82.88 223.36,82.33 223.9,81.8 224.44,81.28 224.98,80.78 225.52,80.29 226.06,79.81 226.6,79.36 227.14,78.91 227.68,78.49 228.22,78.07 228.76,77.66 229.3,77.26 229.84,76.86 230.38,76.48 230.92,76.11 231.46,75.76 232,75.42 232.54,75.09 233.08,74.79 233.62,74.5 234.16,74.24 234.7,73.98 235.24,73.74 235.78,73.5 236.32,73.28 236.86,73.06 237.4,72.85 237.94,72.66 238.48,72.47 239.02,72.29 239.56,72.12 240.1,71.96 240.64,71.81 241.18,71.66 241.72,71.52 242.26,71.39 242.8,71.26 243.34,71.14 243.88,71.02 244.42,70.91 244.96,70.8 245.5,70.69 246.04,70.59 246.58,70.49 247.12,70.39 247.66,70.3 248.2,70.21 248.74,70.12 249.28,70.04 249.82,69.96 250.36,69.88 250.9,69.8 251.44,69.72 251.98,69.64 252.52,69.56 253.06,69.48 253.6,69.4 254.14,69.31 254.68,69.23 255.22,69.14 255.76,69.05 256.3,68.97 256.84,68.88 257.38,68.8 257.92,68.71 258.46,68.63 259,68.54 259.54,68.45 260.08,68.37 260.62,68.28 261.16,68.19 261.7,68.1 262.24,68.01 262.78,67.92 263.32,67.83 263.86,67.73 264.4,67.63 264.94,67.53 265.48,67.42 266.02,67.31 266.56,67.2 267.1,67.09 267.64,66.97 268.18,66.85 268.72,66.72 269.26,66.59 269.8,66.46 270.34,66.32 270.88,66.18 271.42,66.04 271.96,65.89 272.5,65.74 273.04,65.59 273.58,65.44 274.12,65.28 274.66,65.12 275.2,64.96 275.74,64.79 276.28,64.62 276.82,64.45 277.36,64.28 277.9,64.11 278.44,63.93 278.98,63.75 279.52,63.57 280.06,63.39 280.6,63.2 281.14,63.02 281.68,62.83 282.22,62.64 282.76,62.45 283.3,62.26 283.84,62.06 284.38,61.87 284.92,61.67 285.46,61.47 286,61.27 286.54,61.06 287.08,60.85 287.62,60.63 288.16,60.42 288.7,60.19 289.24,59.97 289.78,59.74 290.32,59.51 290.86,59.28 291.4,59.04 291.94,58.8 292.48,58.56 293.02,58.32 293.56,58.07 294.1,57.82 294.64,57.57 295.18,57.32 295.72,57.06 296.26,56.8 296.8,56.54 297.34,56.28 297.88,56.01 298.42,55.74 298.96,55.47 299.5,55.2 300.04,54.93 300.58,54.65 301.12,54.38 301.66,54.1 302.2,53.82 302.74,53.53 303.28,53.25 303.82,52.96 304.36,52.66 304.9,52.36 305.44,52.06 305.98,51.76 306.52,51.45 307.06,51.14 307.6,50.83 308.14,50.51 308.68,50.19 309.22,49.87 309.76,49.54 310.3,49.22 310.84,48.88 311.38,48.55 311.92,48.22 312.46,47.88 313,47.54 313.54,47.19 314.08,46.85 314.62,46.5 315.16,46.15 315.7,45.79 316.24,45.44 316.78,45.08 317.32,44.72 317.86,44.36 318.4,43.99 318.94,43.62 319.48,43.25 320.02,42.88 320.56,42.5 321.1,42.12 321.64,41.73 322.18,41.34 322.72,40.94 323.26,40.54 323.8,40.13 324.34,39.73 324.88,39.32 325.42,38.9 325.96,38.48 326.5,38.06 327.04,37.64 327.58,37.21 328.12,36.78 328.66,36.34 329.2,35.91 329.74,35.47 330.28,35.02 330.82,34.58 331.36,34.13 331.9,33.68" fill="none" stroke="#008080" stroke-width="1.8" stroke-linejoin="round"/>
</g>
<line x1="145.65" y1="4.1" x2="145.65" y2="247.7" stroke="#ff8c1a" stroke-width="1.5"/>
<text x="132.6" y="153.9" font-family="Liberation Serif" font-weight="bold" fill="#ee1c25" stroke="#ee1c25" stroke-width="0.2" font-size="8.3">L101</text>
<text x="94.6" y="196.8" font-family="Liberation Serif" font-weight="bold" fill="#f08a24" stroke="#f08a24" stroke-width="0.2" font-size="8.1">7.3773MPa</text>
<text x="183.2" y="198" font-family="Liberation Serif" font-weight="bold" fill="#1b8a1b" stroke="#1b8a1b" stroke-width="0.2" font-size="8.3">L102</text>
<rect x="235.9" y="106.6" width="7.4" height="7.4" fill="none" stroke="#ff0000" stroke-width="1.3"/>
<circle cx="239.3" cy="122.3" r="4.1" fill="none" stroke="#008000" stroke-width="1.3"/>
<line x1="229.2" y1="133.7" x2="250" y2="133.7" stroke="#800000" stroke-width="1.9" stroke-linecap="round"/>
<line x1="229.2" y1="145.5" x2="250" y2="145.5" stroke="#008080" stroke-width="1.9" stroke-linecap="round"/>
<text x="252.5" y="113.7" font-family="Liberation Serif" font-weight="bold" stroke="#000" stroke-width="0.25" font-size="9.2">308K</text>
<text x="252.5" y="125.3" font-family="Liberation Serif" font-weight="bold" stroke="#000" stroke-width="0.25" font-size="9.2">313K</text>
<text x="252.5" y="137" font-family="Liberation Serif" font-weight="bold" stroke="#000" stroke-width="0.25" font-size="9.2">L101 fitting curve</text>
<text x="252.5" y="148.6" font-family="Liberation Serif" font-weight="bold" stroke="#000" stroke-width="0.25" font-size="9.2">L102 fitting curve</text>
<path d="M29.5 247.7v-3.2M51.1 247.7v-1.6M72.7 247.7v-3.2M94.3 247.7v-1.6M115.9 247.7v-3.2M137.5 247.7v-1.6M159.1 247.7v-3.2M180.7 247.7v-1.6M202.3 247.7v-3.2M223.9 247.7v-1.6M245.5 247.7v-3.2M267.1 247.7v-1.6M288.7 247.7v-3.2M310.3 247.7v-1.6M331.9 247.7v-3.2M29.5 247.7h3.2M29.5 230.3h1.6M29.5 212.9h3.2M29.5 195.5h1.6M29.5 178.1h3.2M29.5 160.7h1.6M29.5 143.3h3.2M29.5 125.9h1.6M29.5 108.5h3.2M29.5 91.1h1.6M29.5 73.7h3.2M29.5 56.3h1.6M29.5 38.9h3.2M29.5 21.5h1.6M29.5 4.1h3.2" stroke="#000" stroke-width="1.7"/>
<rect x="29.5" y="4.1" width="302.4" height="243.6" fill="none" stroke="#000" stroke-width="1.8"/>
<text x="29.5" y="259.3" font-family="Liberation Serif" font-weight="bold" stroke="#000" stroke-width="0.25" font-size="10.6" text-anchor="middle">2</text>
<text x="72.7" y="259.3" font-family="Liberation Serif" font-weight="bold" stroke="#000" stroke-width="0.25" font-size="10.6" text-anchor="middle">4</text>
<text x="115.9" y="259.3" font-family="Liberation Serif" font-weight="bold" stroke="#000" stroke-width="0.25" font-size="10.6" text-anchor="middle">6</text>
<text x="159.1" y="259.3" font-family="Liberation Serif" font-weight="bold" stroke="#000" stroke-width="0.25" font-size="10.6" text-anchor="middle">8</text>
<text x="202.3" y="259.3" font-family="Liberation Serif" font-weight="bold" stroke="#000" stroke-width="0.25" font-size="10.6" text-anchor="middle">10</text>
<text x="245.5" y="259.3" font-family="Liberation Serif" font-weight="bold" stroke="#000" stroke-width="0.25" font-size="10.6" text-anchor="middle">12</text>
<text x="288.7" y="259.3" font-family="Liberation Serif" font-weight="bold" stroke="#000" stroke-width="0.25" font-size="10.6" text-anchor="middle">14</text>
<text x="331.9" y="259.3" font-family="Liberation Serif" font-weight="bold" stroke="#000" stroke-width="0.25" font-size="10.6" text-anchor="middle">16</text>
<text x="25.9" y="250.9" font-family="Liberation Serif" font-weight="bold" stroke="#000" stroke-width="0.25" font-size="10.6" text-anchor="end">10</text>
<text x="25.9" y="216.1" font-family="Liberation Serif" font-weight="bold" stroke="#000" stroke-width="0.25" font-size="10.6" text-anchor="end">20</text>
<text x="25.9" y="181.3" font-family="Liberation Serif" font-weight="bold" stroke="#000" stroke-width="0.25" font-size="10.6" text-anchor="end">30</text>
<text x="25.9" y="146.5" font-family="Liberation Serif" font-weight="bold" stroke="#000" stroke-width="0.25" font-size="10.6" text-anchor="end">40</text>
<text x="25.9" y="111.7" font-family="Liberation Serif" font-weight="bold" stroke="#000" stroke-width="0.25" font-size="10.6" text-anchor="end">50</text>
<text x="25.9" y="76.9" font-family="Liberation Serif" font-weight="bold" stroke="#000" stroke-width="0.25" font-size="10.6" text-anchor="end">60</text>
<text x="25.9" y="42.1" font-family="Liberation Serif" font-weight="bold" stroke="#000" stroke-width="0.25" font-size="10.6" text-anchor="end">70</text>
<text x="25.9" y="7.3" font-family="Liberation Serif" font-weight="bold" stroke="#000" stroke-width="0.25" font-size="10.6" text-anchor="end">80</text>
<text x="180.4" y="280.6" font-family="Liberation Serif" font-weight="bold" stroke="#000" stroke-width="0.25" font-size="12.6" text-anchor="middle">gas pressure/MPa</text>
<text transform="translate(7.9,125.9) rotate(-90)" font-family="Liberation Serif" font-weight="bold" stroke="#000" stroke-width="0.25" font-size="12.6" text-anchor="middle">&#956;<tspan font-size="7.8" dy="3">g</tspan><tspan dy="-3">/&#956;Pa&#183;s</tspan></text>
<g clip-path="url(#cr)">
<line x1="377.2" y1="233.2" x2="402.41" y2="233.2" stroke="#d8a8a8" stroke-width="0.6" stroke-dasharray="6,0.5"/>
<line x1="377.2" y1="227.49" x2="404.01" y2="227.49" stroke="#d8a8a8" stroke-width="0.6" stroke-dasharray="6,0.5"/>
<line x1="377.2" y1="220.3" x2="407.99" y2="220.3" stroke="#d8a8a8" stroke-width="0.6" stroke-dasharray="6,0.5"/>
<line x1="377.2" y1="204.09" x2="418.11" y2="204.09" stroke="#d8a8a8" stroke-width="0.6" stroke-dasharray="6,0.5"/>
<line x1="377.2" y1="132.5" x2="531.27" y2="132.5" stroke="#d8a8a8" stroke-width="0.6" stroke-dasharray="6,0.5"/>
<line x1="377.2" y1="53.43" x2="584.59" y2="53.43" stroke="#d8a8a8" stroke-width="0.6" stroke-dasharray="6,0.5"/>
<line x1="377.2" y1="58.64" x2="612.44" y2="58.64" stroke="#d8a8a8" stroke-width="0.6" stroke-dasharray="6,0.5"/>
<line x1="377.2" y1="56.28" x2="633.41" y2="56.28" stroke="#d8a8a8" stroke-width="0.6" stroke-dasharray="6,0.5"/>
<line x1="377.2" y1="39.52" x2="650.49" y2="39.52" stroke="#d8a8a8" stroke-width="0.6" stroke-dasharray="6,0.5"/>
<line x1="377.2" y1="13.09" x2="665.63" y2="13.09" stroke="#d8a8a8" stroke-width="0.6" stroke-dasharray="6,0.5"/>
<line x1="403.7" y1="227" x2="679.9" y2="227" stroke="#b0d8b0" stroke-width="0.6" stroke-dasharray="6,0.5"/>
<line x1="405.5" y1="224.3" x2="679.9" y2="224.3" stroke="#b0d8b0" stroke-width="0.6" stroke-dasharray="6,0.5"/>
<line x1="408.8" y1="220.5" x2="679.9" y2="220.5" stroke="#b0d8b0" stroke-width="0.6" stroke-dasharray="6,0.5"/>
<line x1="416.5" y1="213.3" x2="679.9" y2="213.3" stroke="#b0d8b0" stroke-width="0.6" stroke-dasharray="6,0.5"/>
<line x1="444.5" y1="188" x2="679.9" y2="188" stroke="#b0d8b0" stroke-width="0.6" stroke-dasharray="6,0.5"/>
<line x1="540" y1="114.3" x2="679.9" y2="114.3" stroke="#b0d8b0" stroke-width="0.6" stroke-dasharray="6,0.5"/>
<line x1="579.4" y1="67.1" x2="679.9" y2="67.1" stroke="#b0d8b0" stroke-width="0.6" stroke-dasharray="6,0.5"/>
<line x1="604.5" y1="60.6" x2="679.9" y2="60.6" stroke="#b0d8b0" stroke-width="0.6" stroke-dasharray="6,0.5"/>
<line x1="624.4" y1="50.2" x2="679.9" y2="50.2" stroke="#b0d8b0" stroke-width="0.6" stroke-dasharray="6,0.5"/>
<line x1="640.6" y1="28.4" x2="679.9" y2="28.4" stroke="#b0d8b0" stroke-width="0.6" stroke-dasharray="6,0.5"/>
<rect x="398.01" y="228.8" width="8.8" height="8.8" fill="#800000"/>
<rect x="399.61" y="223.09" width="8.8" height="8.8" fill="#800000"/>
<rect x="403.59" y="215.9" width="8.8" height="8.8" fill="#800000"/>
<rect x="413.71" y="199.69" width="8.8" height="8.8" fill="#800000"/>
<rect x="526.87" y="128.1" width="8.8" height="8.8" fill="#800000"/>
<rect x="580.19" y="49.03" width="8.8" height="8.8" fill="#800000"/>
<rect x="608.04" y="54.24" width="8.8" height="8.8" fill="#800000"/>
<rect x="629.01" y="51.88" width="8.8" height="8.8" fill="#800000"/>
<rect x="646.09" y="35.12" width="8.8" height="8.8" fill="#800000"/>
<rect x="661.23" y="8.69" width="8.8" height="8.8" fill="#800000"/>
<rect x="399.3" y="222.6" width="8.8" height="8.8" fill="#008000"/>
<rect x="401.1" y="219.9" width="8.8" height="8.8" fill="#008000"/>
<rect x="404.4" y="216.1" width="8.8" height="8.8" fill="#008000"/>
<rect x="412.1" y="208.9" width="8.8" height="8.8" fill="#008000"/>
<rect x="440.1" y="183.6" width="8.8" height="8.8" fill="#008000"/>
<rect x="535.6" y="109.9" width="8.8" height="8.8" fill="#008000"/>
<rect x="575" y="62.7" width="8.8" height="8.8" fill="#008000"/>
<rect x="600.1" y="56.2" width="8.8" height="8.8" fill="#008000"/>
<rect x="620" y="45.8" width="8.8" height="8.8" fill="#008000"/>
<rect x="636.2" y="24" width="8.8" height="8.8" fill="#008000"/>
<line x1="377.2" y1="247.8" x2="679.9" y2="4.4" stroke="#ff0000" stroke-width="1.8"/>
</g>
<rect x="394.8" y="18.5" width="8.6" height="8.6" fill="#800000"/>
<rect x="394.8" y="33.1" width="8.6" height="8.6" fill="#008000"/>
<text x="415.2" y="26.9" font-family="Liberation Serif" font-weight="bold" stroke="#000" stroke-width="0.25" font-size="11">L101</text>
<text x="415.2" y="41.3" font-family="Liberation Serif" font-weight="bold" stroke="#000" stroke-width="0.25" font-size="11">L102</text>
<text x="515" y="156.8" font-family="Liberation Serif" font-weight="bold" stroke="#000" stroke-width="0.25" font-size="10.5">y=x</text>
<path d="M377.2 247.8v-3.2M377.2 247.8h3.2M398.82 247.8v-1.6M377.2 230.41h1.6M420.44 247.8v-3.2M377.2 213.03h3.2M442.06 247.8v-1.6M377.2 195.64h1.6M463.69 247.8v-3.2M377.2 178.26h3.2M485.31 247.8v-1.6M377.2 160.87h1.6M506.93 247.8v-3.2M377.2 143.49h3.2M528.55 247.8v-1.6M377.2 126.1h1.6M550.17 247.8v-3.2M377.2 108.71h3.2M571.79 247.8v-1.6M377.2 91.33h1.6M593.41 247.8v-3.2M377.2 73.94h3.2M615.04 247.8v-1.6M377.2 56.56h1.6M636.66 247.8v-3.2M377.2 39.17h3.2M658.28 247.8v-1.6M377.2 21.79h1.6M679.9 247.8v-3.2M377.2 4.4h3.2" stroke="#000" stroke-width="1.7"/>
<rect x="377.2" y="4.4" width="302.7" height="243.4" fill="none" stroke="#000" stroke-width="1.8"/>
<text x="377.2" y="259.3" font-family="Liberation Serif" font-weight="bold" stroke="#000" stroke-width="0.25" font-size="10.6" text-anchor="middle">10</text>
<text x="373.5" y="251" font-family="Liberation Serif" font-weight="bold" stroke="#000" stroke-width="0.25" font-size="10.6" text-anchor="end">10</text>
<text x="420.44" y="259.3" font-family="Liberation Serif" font-weight="bold" stroke="#000" stroke-width="0.25" font-size="10.6" text-anchor="middle">20</text>
<text x="373.5" y="216.23" font-family="Liberation Serif" font-weight="bold" stroke="#000" stroke-width="0.25" font-size="10.6" text-anchor="end">20</text>
<text x="463.69" y="259.3" font-family="Liberation Serif" font-weight="bold" stroke="#000" stroke-width="0.25" font-size="10.6" text-anchor="middle">30</text>
<text x="373.5" y="181.46" font-family="Liberation Serif" font-weight="bold" stroke="#000" stroke-width="0.25" font-size="10.6" text-anchor="end">30</text>
<text x="506.93" y="259.3" font-family="Liberation Serif" font-weight="bold" stroke="#000" stroke-width="0.25" font-size="10.6" text-anchor="middle">40</text>
<text x="373.5" y="146.69" font-family="Liberation Serif" font-weight="bold" stroke="#000" stroke-width="0.25" font-size="10.6" text-anchor="end">40</text>
<text x="550.17" y="259.3" font-family="Liberation Serif" font-weight="bold" stroke="#000" stroke-width="0.25" font-size="10.6" text-anchor="middle">50</text>
<text x="373.5" y="111.91" font-family="Liberation Serif" font-weight="bold" stroke="#000" stroke-width="0.25" font-size="10.6" text-anchor="end">50</text>
<text x="593.41" y="259.3" font-family="Liberation Serif" font-weight="bold" stroke="#000" stroke-width="0.25" font-size="10.6" text-anchor="middle">60</text>
<text x="373.5" y="77.14" font-family="Liberation Serif" font-weight="bold" stroke="#000" stroke-width="0.25" font-size="10.6" text-anchor="end">60</text>
<text x="636.66" y="259.3" font-family="Liberation Serif" font-weight="bold" stroke="#000" stroke-width="0.25" font-size="10.6" text-anchor="middle">70</text>
<text x="373.5" y="42.37" font-family="Liberation Serif" font-weight="bold" stroke="#000" stroke-width="0.25" font-size="10.6" text-anchor="end">70</text>
<text x="679.9" y="259.3" font-family="Liberation Serif" font-weight="bold" stroke="#000" stroke-width="0.25" font-size="10.6" text-anchor="middle">80</text>
<text x="373.5" y="7.6" font-family="Liberation Serif" font-weight="bold" stroke="#000" stroke-width="0.25" font-size="10.6" text-anchor="end">80</text>
<text x="528.3" y="278.5" font-family="Liberation Serif" font-weight="bold" stroke="#000" stroke-width="0.25" font-size="12.6" text-anchor="middle">experimental data &#956;<tspan font-size="7.8" dy="3">g</tspan><tspan dy="-3">/&#956;Pa&#183;s</tspan></text>
<text transform="translate(357,126) rotate(-90)" font-family="Liberation Serif" font-weight="bold" stroke="#000" stroke-width="0.25" font-size="12.6" text-anchor="middle">fitting data &#956;<tspan font-size="7.8" dy="3">g</tspan><tspan dy="-3">/&#956;Pa&#183;s</tspan></text>
<text x="185.5" y="316" font-family="Liberation Serif" font-size="20" text-anchor="middle">(a)</text>
<text x="547" y="316" font-family="Liberation Serif" font-size="20" text-anchor="middle">(b)</text>
</svg></body></html>
